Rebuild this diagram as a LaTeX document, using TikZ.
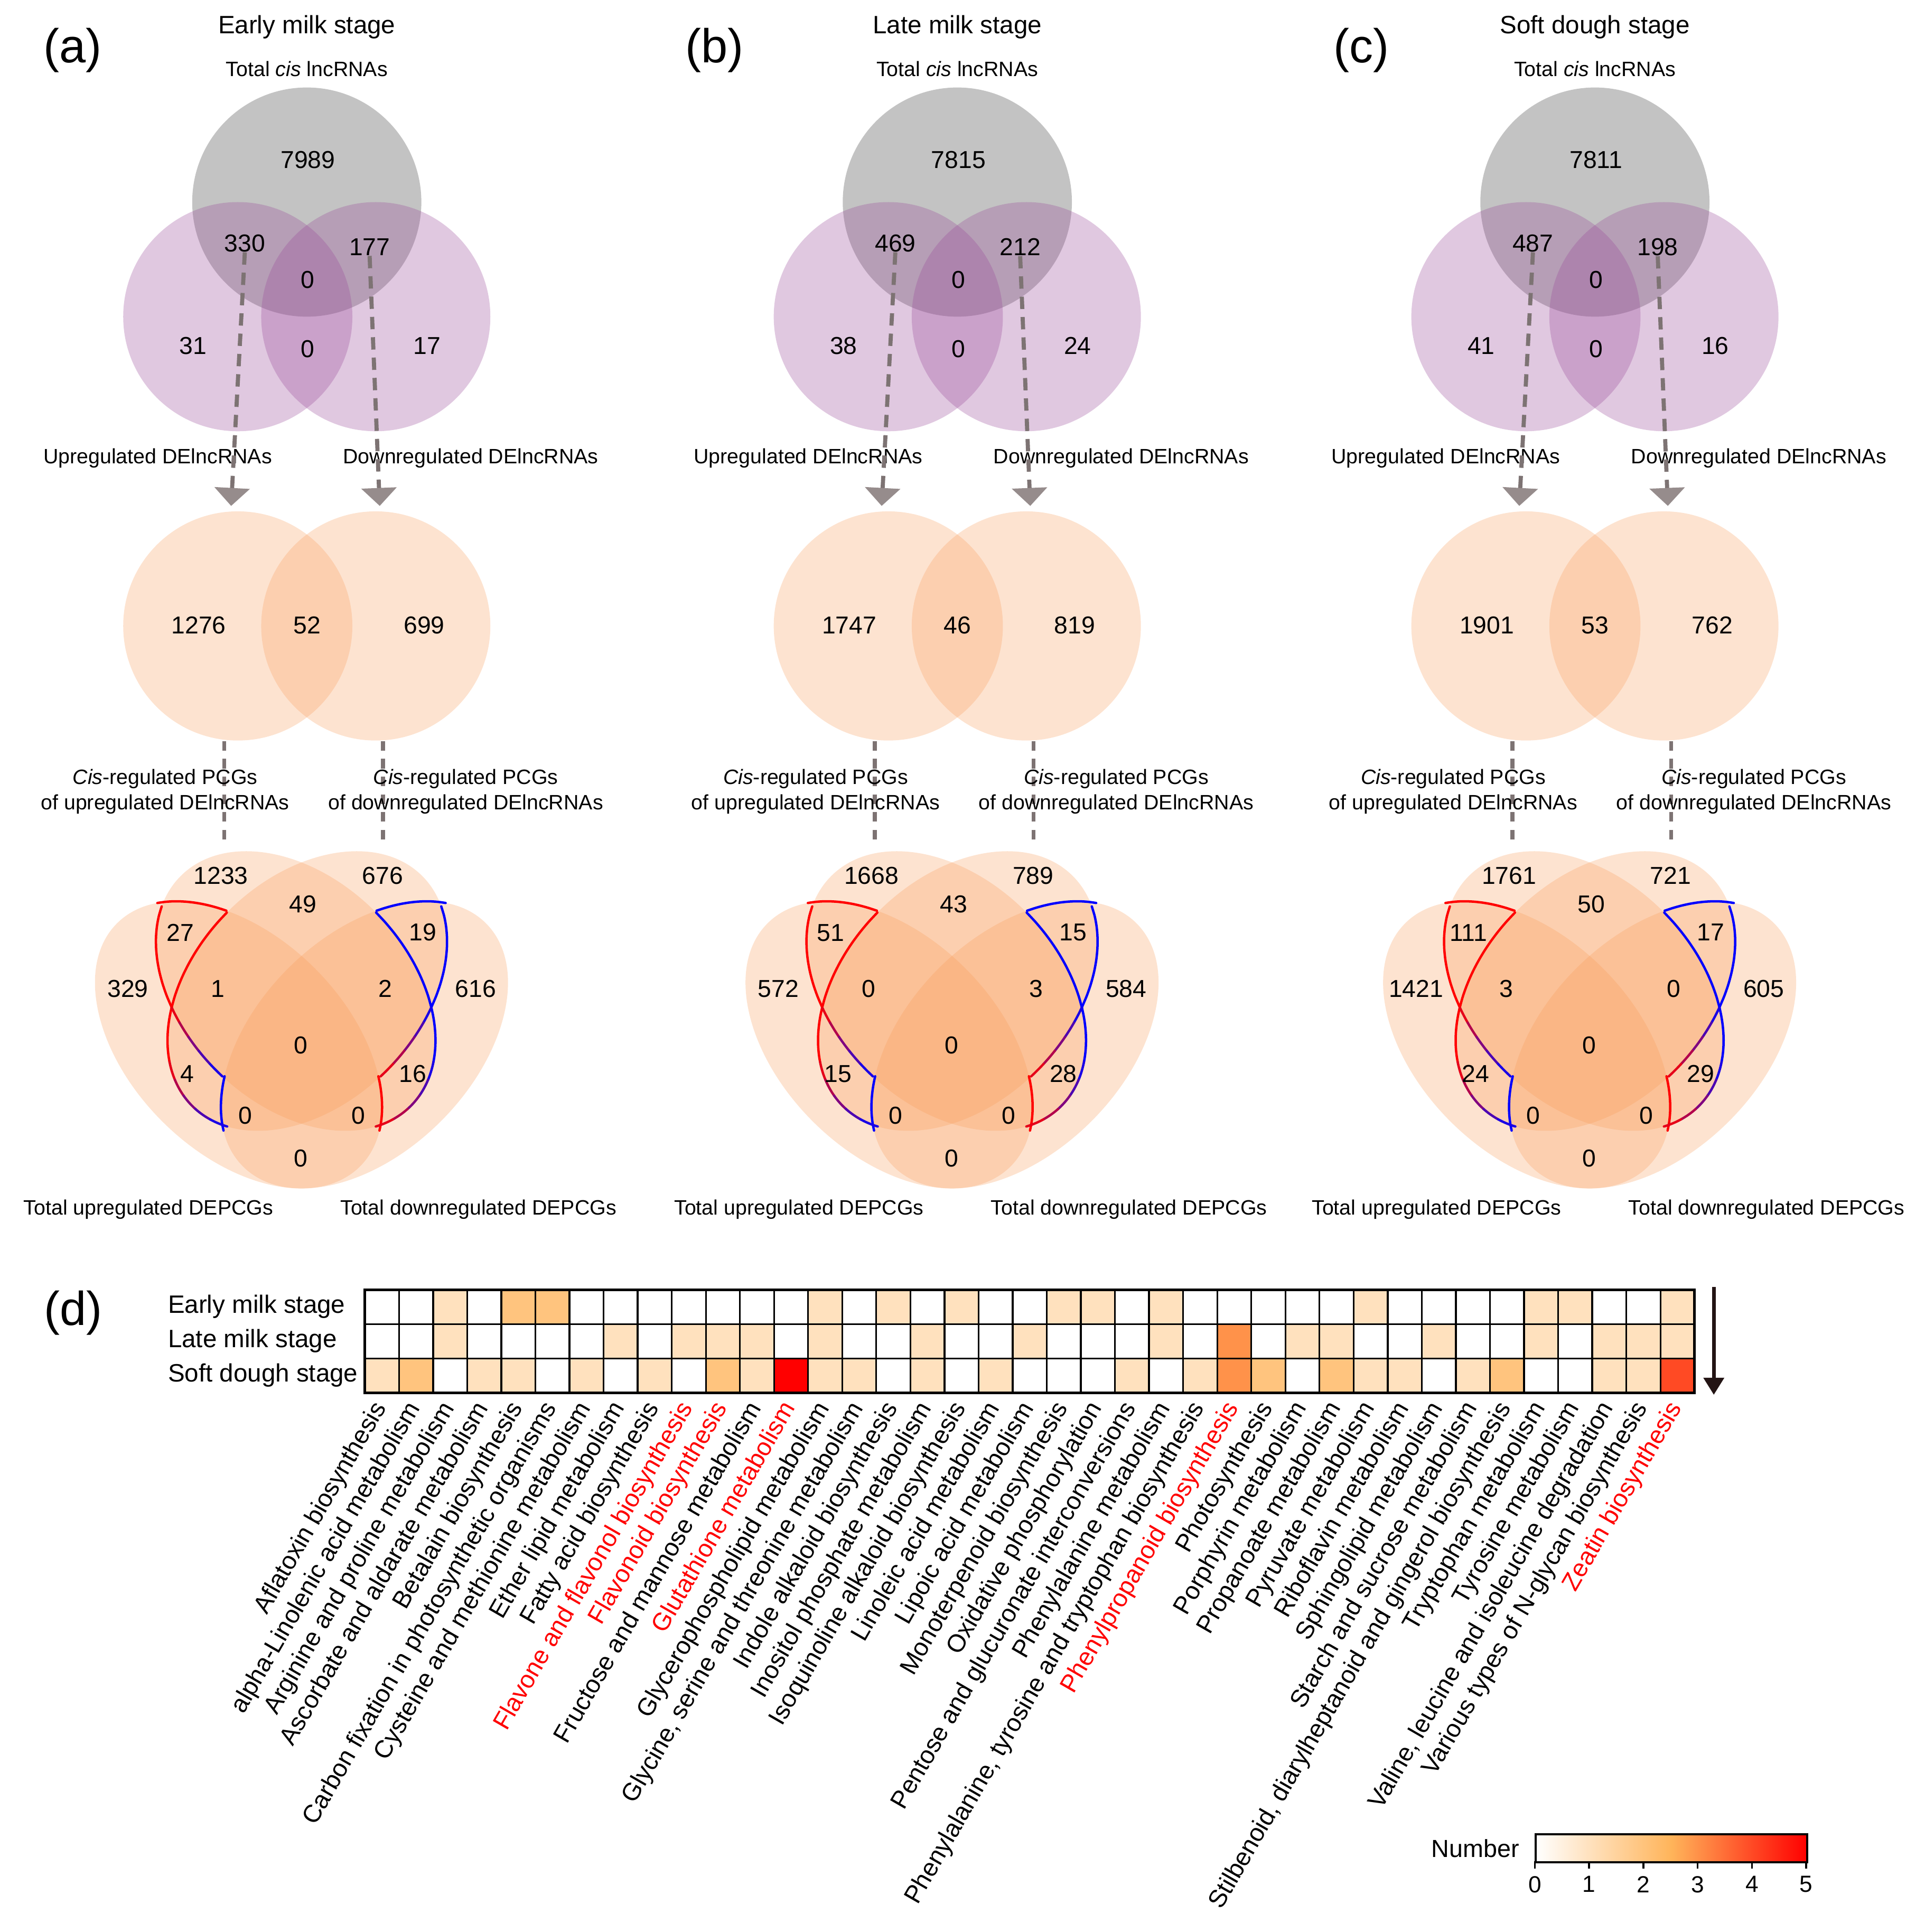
\documentclass[tikz,border=0pt]{standalone}
\usepackage{fontspec}
\setmainfont{Liberation Sans}
\usetikzlibrary{positioning,arrows.meta}

\definecolor{lncgray}{RGB}{128,128,128}
\definecolor{lncpurple}{RGB}{152,72,152}
\definecolor{pcgorange}{RGB}{248,155,88}
\definecolor{dashgray}{RGB}{125,115,115}
\definecolor{headgray}{RGB}{150,140,140}
\definecolor{barorange}{RGB}{255,180,90}
\definecolor{arrowdark}{RGB}{35,20,20}
\colorlet{hm0}{white}
\definecolor{hm1}{RGB}{255,225,190}
\definecolor{hm2}{RGB}{255,196,126}
\definecolor{hm3}{RGB}{255,146,74}
\definecolor{hm4}{RGB}{255,74,36}
\definecolor{hm5}{RGB}{255,0,0}

% arc of a 45 degree ellipse: colour, cx, cy, a, b, +-0.7071, t1, t2
\newcommand{\hlarc}[8]{%
  \draw[hlline, #1, domain=#7:#8, samples=10, smooth]
    plot ({#2+(#6)*(#4*cos(\x)-#5*sin(\x))},{#3+0.7071*(#4*cos(\x)+#5*sin(\x))});}

% outline of the two highlighted regions on the left side
\newcommand{\hlshape}[2]{%
  \hlarc{#1}{193.6}{848}{139.5}{87.7}{0.7071}{203.4}{233.0}
  \hlarc{#1}{249.4}{804.3}{132}{91.2}{-0.7071}{-89.5}{-48.4}
  \hlarc{#1}{240}{804.3}{132}{91.2}{0.7071}{117.7}{161.9}
  \hlarc{#2}{295.8}{848}{139.5}{87.7}{-0.7071}{-45.2}{-21.2}
  \hlarc{#1}{249.4}{804.3}{132}{91.2}{-0.7071}{-48.4}{-25}
  \foreach \k in {0,...,4}{%
    \pgfmathsetmacro{\ta}{117.7-6.14*\k}
    \pgfmathsetmacro{\tb}{\ta-6.14}
    \pgfmathtruncatemacro{\mix}{90-20*\k}
    \hlarc{#1!\mix!#2}{240}{804.3}{132}{91.2}{0.7071}{\ta}{\tb}
    \pgfmathsetmacro{\tc}{-25+9.08*\k}
    \pgfmathsetmacro{\td}{\tc+9.08}
    \hlarc{#1!\mix!#2}{249.4}{804.3}{132}{91.2}{-0.7071}{\tc}{\td}
  }}

% one stage: x offset, prefix, tag, tag x, stage, lncRNA counts, PCG counts, DEPCG counts
\newcommand{\stagepanel}[8]{%
  \begin{scope}[shift={(#1,0)}]
    \node[paneltag] (#2-tag) at (#4,41) {#3};
    \node[stagetitle] (#2-title) at (249,22) {#5};
    \node[smalltext] (#2-total) at (249,56) {Total \textit{cis} lncRNAs};
    % lncRNA venn
    \fill[lncgray, fill opacity=0.47] (249,164) circle[radius=93];
    \fill[lncpurple, fill opacity=0.3] (193,257) circle[radius=93];
    \fill[lncpurple, fill opacity=0.3] (305,257) circle[radius=93];
    \foreach \px/\py [count=\i] in {249.9/129.8,198.7/197.4,300/200.5,249.9/227.2,156.7/280.5,249.9/283.1,346.6/280.5}
      \coordinate (#2-t\i) at (\px,\py);
    \foreach \n [count=\i] in {#6}
      \node[vnum] (#2-tn\i) at (#2-t\i) {\n};
    \node[smalltext] (#2-uplnc) at (128,372) {Upregulated DElncRNAs};
    \node[smalltext] (#2-downlnc) at (382,372) {Downregulated DElncRNAs};
    % PCG venn
    \fill[pcgorange, fill opacity=0.28] (193,508) circle[radius=93];
    \fill[pcgorange, fill opacity=0.28] (305,508) circle[radius=93];
    \coordinate (#2-uptip) at (187.6,410.6);
    \coordinate (#2-downtip) at (308.2,410.6);
    \draw[lncarrow] (#2-tn2.south) -- (#2-uptip);
    \draw[lncarrow] (#2-tn3.south) -- (#2-downtip);
    \foreach \px/\py [count=\i] in {161.3/507.5,249.2/507.5,344.3/507.5}
      \coordinate (#2-m\i) at (\px,\py);
    \foreach \n [count=\i] in {#7}
      \node[vnum] (#2-mn\i) at (#2-m\i) {\n};
    \coordinate (#2-l1) at (182,601.5);
    \coordinate (#2-l2) at (182,686);
    \coordinate (#2-r1) at (310.9,601.5);
    \coordinate (#2-r2) at (310.9,686);
    \draw[pcglink] (#2-l1) -- (#2-l2);
    \draw[pcglink] (#2-r1) -- (#2-r2);
    \node[smalltext] (#2-cisup) at (134,642.5) {\textit{Cis}-regulated PCGs\\of upregulated DElncRNAs};
    \node[smalltext] (#2-cisdown) at (378,642.5) {\textit{Cis}-regulated PCGs\\of downregulated DElncRNAs};
    % DEPCG venn
    \fill[pcgorange, fill opacity=0.28, shift={(193.6,848)}, rotate=-45] (0,0) circle[x radius=139.5, y radius=87.7];
    \fill[pcgorange, fill opacity=0.28, shift={(240,804.3)}, rotate=-45] (0,0) circle[x radius=132, y radius=91.2];
    \fill[pcgorange, fill opacity=0.28, shift={(249.4,804.3)}, rotate=45] (0,0) circle[x radius=132, y radius=91.2];
    \fill[pcgorange, fill opacity=0.28, shift={(295.8,848)}, rotate=45] (0,0) circle[x radius=139.5, y radius=87.7];
    \hlshape{red}{blue}
    \begin{scope}[xscale=-1, shift={(-489.4,0)}]
      \hlshape{blue}{red}
    \end{scope}
    \foreach \px/\py [count=\i] in {179.3/710.5,246/733.8,310.5/710.5,146.3/757,343.1/756.5,
        103.8/802.3,177/802.3,312.9/802.3,386/802.3,244.3/848.3,
        152.1/871.5,335/871.5,199/905.2,290.8/905.2,244.3/940}
      \coordinate (#2-b\i) at (\px,\py);
    \foreach \n [count=\i] in {#8}
      \node[vnum] (#2-bn\i) at (#2-b\i) {\n};
    \node[smalltext] (#2-totup) at (120.5,981.4) {Total upregulated DEPCGs};
    \node[smalltext] (#2-totdown) at (388.3,981.4) {Total downregulated DEPCGs};
  \end{scope}}

\begin{document}
\begin{tikzpicture}[x=0.02cm, y=-0.02cm,
    vnum/.style={inner sep=0pt, font=\fontsize{11.3}{13}\selectfont},
    smalltext/.style={inner sep=0pt, align=center, font=\fontsize{9.6}{11.84}\selectfont},
    stagetitle/.style={inner sep=0pt, font=\fontsize{11.6}{14}\selectfont},
    paneltag/.style={inner sep=0pt, font=\fontsize{22}{26}\selectfont},
    lncarrow/.style={dashgray, line width=1.9pt, dash pattern=on 5.7pt off 3.7pt,
      -{Triangle[width=16pt,length=8.3pt,color=headgray]}},
    pcglink/.style={dashgray, line width=1.8pt, dash pattern=on 4.4pt off 3.8pt},
    hlline/.style={line width=1.1pt, line cap=round, line join=round},
    hmcell/.style={draw=black, line width=0.8pt},
    rowlab/.style={anchor=west, inner sep=0pt, font=\fontsize{11.6}{14}\selectfont},
    pathway/.style={rotate=60, anchor=base east, inner sep=0pt, font=\fontsize{11.5}{13}\selectfont},
    ticklab/.style={inner sep=0pt, font=\fontsize{10.8}{13}\selectfont}]
  \useasboundingbox (0,0) rectangle (1562,1568);

  \stagepanel{0}{a}{(a)}{59}{Early milk stage}{7989,330,177,0,31,0,17}{1276,52,699}
    {1233,49,676,27,19,329,1,2,616,0,4,16,0,0,0}
  \stagepanel{528}{b}{(b)}{52}{Late milk stage}{7815,469,212,0,38,0,24}{1747,46,819}
    {1668,43,789,51,15,572,0,3,584,0,15,28,0,0,0}
  \stagepanel{1045.5}{c}{(c)}{59.5}{Soft dough stage}{7811,487,198,0,41,0,16}{1901,53,762}
    {1761,50,721,111,17,1421,3,0,605,0,24,29,0,0,0}

  % (d) heatmap
  \node[paneltag] (d-tag) at (59.5,1065.5) {(d)};
  \foreach \vals [count=\r from 0] in {
      {0,0,1,0,2,2,0,0,0,0,0,0,0,1,0,1,0,1,0,0,1,1,0,1,0,0,0,0,0,1,0,0,0,0,1,1,0,0,1},
      {0,0,1,0,0,0,0,1,0,1,1,1,0,1,0,0,1,0,0,1,0,0,0,1,0,3,0,1,1,0,0,1,0,0,1,0,1,1,1},
      {1,2,0,1,1,0,1,0,1,0,2,1,5,1,1,0,1,0,1,0,0,0,1,0,1,3,2,0,2,1,1,0,1,2,0,0,1,1,4}}
    \foreach \v [count=\c from 0] in \vals
      \draw[hmcell, fill=hm\v] ({296.2+27.67*\c},{1046.7+27.87*\r}) rectangle ++(27.67,27.87);
  \draw[line width=1.3pt] (296.2,1046.7) rectangle (1375.33,1130.31);
  \foreach \st [count=\r from 0] in {Early milk stage, Late milk stage, Soft dough stage}
    \node[rowlab] (row\r) at (136,{1060.6+27.87*\r}) {\st};
  \foreach \pw/\pc [count=\c from 0] in {
      {Aflatoxin biosynthesis}/black,
      {alpha-Linolenic acid metabolism}/black,
      {Arginine and proline metabolism}/black,
      {Ascorbate and aldarate metabolism}/black,
      {Betalain biosynthesis}/black,
      {Carbon fixation in photosynthetic organisms}/black,
      {Cysteine and methionine metabolism}/black,
      {Ether lipid metabolism}/black,
      {Fatty acid biosynthesis}/black,
      {Flavone and flavonol biosynthesis}/red,
      {Flavonoid biosynthesis}/red,
      {Fructose and mannose metabolism}/black,
      {Glutathione metabolism}/red,
      {Glycerophospholipid metabolism}/black,
      {Glycine, serine and threonine metabolism}/black,
      {Indole alkaloid biosynthesis}/black,
      {Inositol phosphate metabolism}/black,
      {Isoquinoline alkaloid biosynthesis}/black,
      {Linoleic acid metabolism}/black,
      {Lipoic acid metabolism}/black,
      {Monoterpenoid biosynthesis}/black,
      {Oxidative phosphorylation}/black,
      {Pentose and glucuronate interconversions}/black,
      {Phenylalanine metabolism}/black,
      {Phenylalanine, tyrosine and tryptophan biosynthesis}/black,
      {Phenylpropanoid biosynthesis}/red,
      {Photosynthesis}/black,
      {Porphyrin metabolism}/black,
      {Propanoate metabolism}/black,
      {Pyruvate metabolism}/black,
      {Riboflavin metabolism}/black,
      {Sphingolipid metabolism}/black,
      {Starch and sucrose metabolism}/black,
      {Stilbenoid, diarylheptanoid and gingerol biosynthesis}/black,
      {Tryptophan metabolism}/black,
      {Tyrosine metabolism}/black,
      {Valine, leucine and isoleucine degradation}/black,
      {Various types of N-glycan biosynthesis}/black,
      {Zeatin biosynthesis}/red}
    \node[pathway, text=\pc] (pw\c) at ({314+27.67*\c},1142.3) {\pw};

  % stage order arrow
  \coordinate (arrtop) at (1391,1044.5);
  \coordinate (arrbot) at (1391,1132);
  \draw[arrowdark, line width=1.7pt, -{Triangle[width=9.3pt,length=7.9pt]}] (arrtop) -- (arrbot);

  % colour key
  \node[draw, line width=0.9pt, left color=white, right color=red, middle color=barorange,
    minimum width=4.406cm, minimum height=0.452cm, inner sep=0pt, anchor=north west] (bar) at (1245.7,1488) {};
  \node[ticklab, left=7pt of bar, font=\fontsize{11.4}{13}\selectfont] (numlab) {Number};
  \foreach \k in {0,...,5}
    \draw[line width=0.9pt] ({1245.7+44.06*\k},1510.6) -- ++(0,6) node[ticklab, below=3pt] (tick\k) {\k};
\end{tikzpicture}
\end{document}
